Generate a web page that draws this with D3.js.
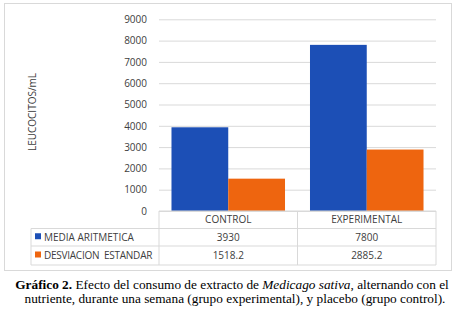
<!DOCTYPE html>
<html><head><meta charset="utf-8">
<script src="https://cdn.jsdelivr.net/npm/d3@7"></script>
<style>body{margin:0;background:#fff}svg{display:block}</style>
</head><body>
<svg id="c" width="459" height="310"></svg>
<script>
const categories = ["CONTROL", "EXPERIMENTAL"];
const seriesNames = ["MEDIA ARITMETICA", "DESVIACION  ESTANDAR"];
const media = [3930, 7800];
const desviacion = [1518.2, 2885.2];
const valueLabels = [["3930", "7800"], ["1518.2", "2885.2"]];
const yTicks = [0, 1000, 2000, 3000, 4000, 5000, 6000, 7000, 8000, 9000];
const colors = ["#1c4fb6", "#ee650f"];
const series = [media, desviacion];

const svg = d3.select("#c");
const font = "'Open Sans', sans-serif";

// outer box
svg.append("rect").attr("x", 4.5).attr("y", 3.5).attr("width", 447).attr("height", 267)
  .attr("fill", "#fff").attr("stroke", "#d9d9d9");

const x0 = 159, x1 = 436, yTop = 19.3, yBot = 211;
const y = d3.scaleLinear().domain([0, 9000]).range([yBot, yTop]);
const xb = d3.scaleBand().domain(categories).range([x0, x1]).paddingInner(0).paddingOuter(0);
const xs = d3.scaleBand().domain([0, 1]).range([0, xb.bandwidth()]).paddingInner(0).paddingOuter(0.22);

// gridlines
const yAxis = d3.axisLeft(y).tickValues(yTicks).tickSize(-(x1 - x0)).tickPadding(12).tickFormat(d3.format("d"));
const ga = svg.append("g").attr("transform", `translate(${x0},0)`).call(yAxis);
ga.select(".domain").remove();
ga.selectAll(".tick line").attr("stroke", "#d9d9d9");
ga.selectAll(".tick text").attr("font-family", font).attr("font-size", 10).attr("fill", "#404040");

// bars
categories.forEach((c, i) => {
  series.forEach((s, j) => {
    svg.append("rect")
      .attr("x", xb(c) + xs(j))
      .attr("y", y(s[i]))
      .attr("width", xs.bandwidth())
      .attr("height", y(0) - y(s[i]))
      .attr("fill", colors[j]);
  });
});

// y title
svg.append("text").attr("transform", "translate(36,112) rotate(-90)")
  .attr("text-anchor", "middle").attr("font-family", font).attr("font-size", 10)
  .attr("fill", "#404040").text("LEUCOCITOS/mL");

// data table
const tLeft = 31, r0 = 211, r1 = 228.5, r2 = 246, r3 = 265;
const lc = "#d9d9d9";
const line = (xa, ya, xb2, yb) => svg.append("line").attr("x1", xa).attr("y1", ya).attr("x2", xb2).attr("y2", yb).attr("stroke", lc);
line(x0, r0, x1, r0);
line(tLeft, r1, x1, r1);
line(tLeft, r2, x1, r2);
line(tLeft, r3, x1, r3);
line(tLeft, r1, tLeft, r3);
line(x0, r0, x0, r3);
categories.forEach(c => line(xb(c) + xb.bandwidth(), r0, xb(c) + xb.bandwidth(), r3));

categories.forEach(c => {
  svg.append("text").attr("x", xb(c) + xb.bandwidth() / 2).attr("y", (r0 + r1) / 2 + 3.5)
    .attr("text-anchor", "middle").attr("font-family", font).attr("font-size", 10)
    .attr("fill", "#404040").text(c);
});
const rowsY = [(r1 + r2) / 2, (r2 + r3) / 2];
seriesNames.forEach((n, j) => {
  svg.append("rect").attr("x", 35).attr("y", rowsY[j] - 4).attr("width", 6).attr("height", 6).attr("fill", colors[j]);
  svg.append("text").attr("x", 44).attr("y", rowsY[j] + 3.5).attr("font-family", font).attr("font-size", 10)
    .attr("fill", "#404040").attr("xml:space", "preserve").style("white-space", "pre")
    .attr("letter-spacing", j === 1 ? -0.25 : 0).text(n);
  categories.forEach((c, i) => {
    svg.append("text").attr("x", xb(c) + xb.bandwidth() / 2).attr("y", rowsY[j] + 3.5)
      .attr("text-anchor", "middle").attr("font-family", font).attr("font-size", 10)
      .attr("fill", "#404040").text(valueLabels[j][i]);
  });
});

// caption
const cap = svg.append("g").attr("font-family", "'Liberation Serif', 'Times New Roman', serif").attr("font-size", 13.3).attr("fill", "#000");
const t1 = cap.append("text").attr("x", 232).attr("y", 288.5).attr("text-anchor", "middle");
t1.append("tspan").attr("font-weight", "bold").text("Gráfico 2.");
t1.append("tspan").text(" Efecto del consumo de extracto de ");
t1.append("tspan").attr("font-style", "italic").text("Medicago sativa");
t1.append("tspan").text(", alternando con el");
cap.append("text").attr("x", 235).attr("y", 302.5).attr("text-anchor", "middle")
  .text("nutriente, durante una semana (grupo experimental), y placebo (grupo control).");
</script>
</body></html>
